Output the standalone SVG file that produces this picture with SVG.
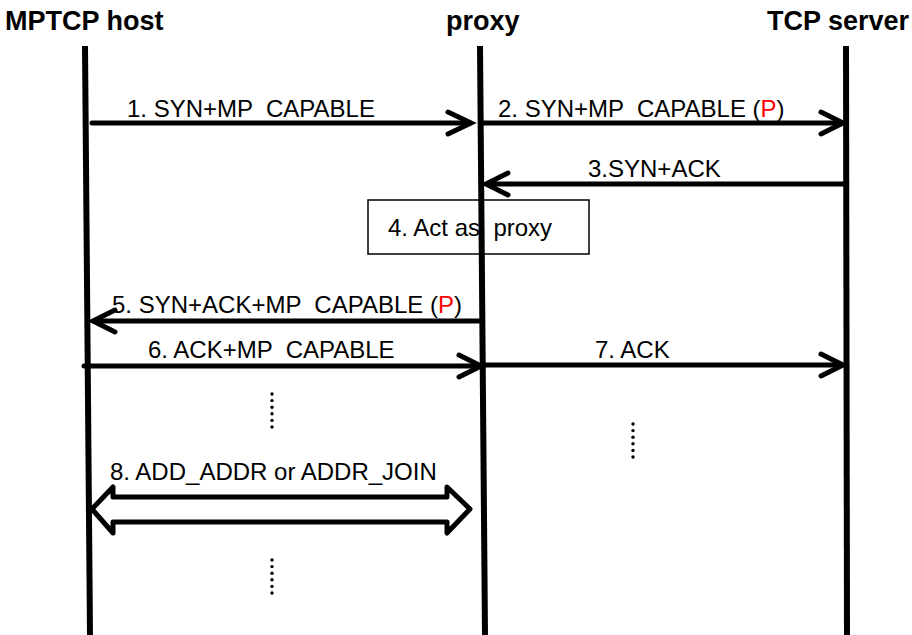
<svg xmlns="http://www.w3.org/2000/svg" width="912" height="635" viewBox="0 0 912 635">
  <style>
    .hdr { font-family: "Liberation Sans", Arial, sans-serif; font-weight: bold; font-size: 27px; fill: #000; }
    .lbl { font-family: "Liberation Sans", Arial, sans-serif; font-size: 24px; fill: #000; }
    .red { fill: #ff0000; }
    .life { stroke: #000; stroke-width: 6; fill: none; }
    .msg { stroke: #000; stroke-width: 5; fill: none; stroke-linecap: round; stroke-linejoin: round; }
    .head { stroke: #000; stroke-width: 5; fill: none; stroke-linecap: round; stroke-linejoin: miter; }
    .dot { fill: #000; }
  </style>

  <rect width="912" height="635" fill="#fff"/>

  <!-- participants -->
  <g id="node-mptcp-host">
    <text class="hdr" x="5" y="30">MPTCP host</text>
    <line class="life" x1="85" y1="46" x2="90" y2="635"/>
  </g>

  <g id="node-act-as-proxy">
    <rect x="368" y="200" width="221" height="54" fill="#fff" stroke="#000" stroke-width="1.5"/>
    <text class="lbl" x="388" y="236" font-size="25.5" xml:space="preserve">4. Act as  proxy</text>
  </g>

  <g id="node-proxy">
    <text class="hdr" x="446" y="30">proxy</text>
    <line class="life" x1="480" y1="46" x2="485" y2="635"/>
  </g>

  <g id="node-tcp-server">
    <text class="hdr" x="767" y="30" font-size="25.5">TCP server</text>
    <line class="life" x1="846" y1="46" x2="847" y2="635"/>
  </g>

  <!-- messages -->
  <g id="connectors">
    <!-- 1 -->
    <line class="msg" x1="92" y1="123" x2="470" y2="123"/>
    <polyline class="head" points="448,112 471,123 448,134"/>
    <text class="lbl" x="127" y="117" xml:space="preserve">1. SYN+MP  CAPABLE</text>

    <!-- 2 -->
    <line class="msg" x1="484" y1="123" x2="841" y2="123"/>
    <polyline class="head" points="821,112 843,123 821,134"/>
    <text class="lbl" x="498" y="117" xml:space="preserve">2. SYN+MP  CAPABLE (<tspan class="red">P</tspan>)</text>

    <!-- 3 -->
    <line class="msg" x1="845" y1="184" x2="487" y2="184"/>
    <polyline class="head" points="508,173 486,184 508,195"/>
    <text class="lbl" x="588" y="177">3.SYN+ACK</text>

    <!-- 5 -->
    <line class="msg" x1="481" y1="321" x2="94" y2="321"/>
    <polyline class="head" points="115,310 93,321 115,332"/>
    <text class="lbl" x="112" y="313" xml:space="preserve">5. SYN+ACK+MP  CAPABLE (<tspan class="red">P</tspan>)</text>

    <!-- 6 -->
    <line class="msg" x1="84" y1="366" x2="480" y2="366"/>
    <polyline class="head" points="459,355 481,366 459,377"/>
    <text class="lbl" x="148" y="358" xml:space="preserve">6. ACK+MP  CAPABLE</text>

    <!-- 7 -->
    <line class="msg" x1="484" y1="365" x2="841" y2="365"/>
    <polyline class="head" points="821,354 843,365 821,376"/>
    <text class="lbl" x="595" y="358">7. ACK</text>

    <!-- 8: two-way block arrow -->
    <path class="msg" d="M92,509 L113,487 L113,497 L447,497 L447,487 L470,509 L447,533 L447,522 L113,522 L113,533 Z"/>
    <text class="lbl" x="110" y="480">8. ADD_ADDR or ADDR_JOIN</text>
  </g>

  <!-- vertical ellipses -->
  <g id="ellipsis-left-upper">
    <circle class="dot" cx="272" cy="394" r="1.7"/>
    <circle class="dot" cx="272" cy="400.6" r="1.7"/>
    <circle class="dot" cx="272" cy="407.2" r="1.7"/>
    <circle class="dot" cx="272" cy="413.8" r="1.7"/>
    <circle class="dot" cx="272" cy="420.4" r="1.7"/>
    <circle class="dot" cx="272" cy="427" r="1.7"/>
  </g>
  <g id="ellipsis-left-lower">
    <circle class="dot" cx="272" cy="560" r="1.7"/>
    <circle class="dot" cx="272" cy="566.6" r="1.7"/>
    <circle class="dot" cx="272" cy="573.2" r="1.7"/>
    <circle class="dot" cx="272" cy="579.8" r="1.7"/>
    <circle class="dot" cx="272" cy="586.4" r="1.7"/>
    <circle class="dot" cx="272" cy="593" r="1.7"/>
  </g>
  <g id="ellipsis-right">
    <circle class="dot" cx="633" cy="424" r="1.7"/>
    <circle class="dot" cx="633" cy="430.6" r="1.7"/>
    <circle class="dot" cx="633" cy="437.2" r="1.7"/>
    <circle class="dot" cx="633" cy="443.8" r="1.7"/>
    <circle class="dot" cx="633" cy="450.4" r="1.7"/>
    <circle class="dot" cx="633" cy="457" r="1.7"/>
  </g>
</svg>
